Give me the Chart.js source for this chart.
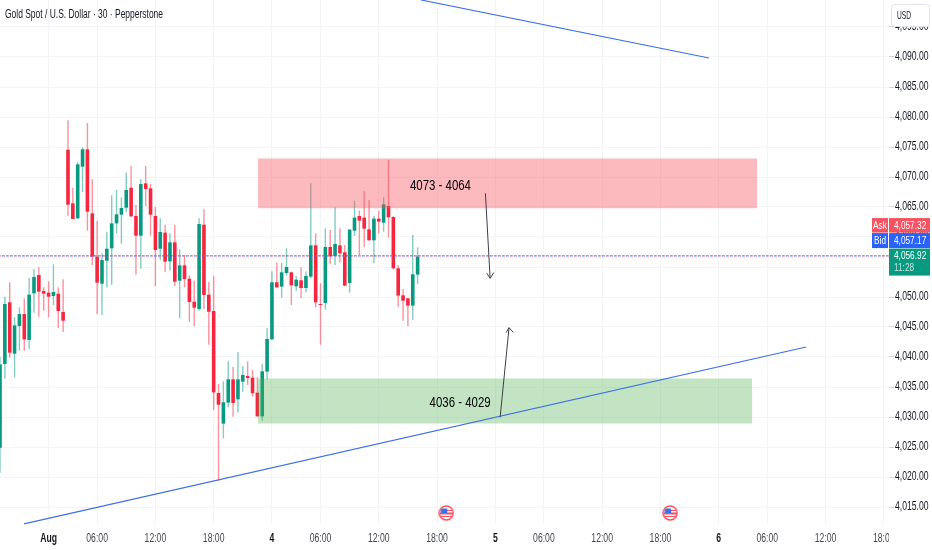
<!DOCTYPE html>
<html>
<head>
<meta charset="utf-8">
<title>Gold Spot / U.S. Dollar</title>
<script src="https://cdn.jsdelivr.net/npm/chart.js@4/dist/chart.umd.min.js"></script>
<style>
  html, body { margin: 0; padding: 0; background: #fff; overflow: hidden; }
  #wrap { width: 932px; height: 550px; }
</style>
</head>
<body>
<div id="wrap"><canvas id="goldChart" width="932" height="550"></canvas></div>
<script>
// ------ Data ----------------------------------
var opens = [4024.89,4038.83,4049.11,4040.55,4045.16,4047.16,4042.83,4050.61,4053.66,4051.00,4050.72,4050.16,4050.55,4047.50,
  4074.55,4065.61,4063.11,4071.72,4074.61,4063.94,4056.72,4052.22,4056.05,4058.11,4062.27,4063.72,4064.89,4068.22,4063.50,4060.22,
  4068.94,4068.11,4063.50,4058.05,4060.72,4055.94,4059.11,4052.72,4055.27,4053.05,4049.22,4048.00,4062.05,4050.39,4047.66,4034.00,
  4028.89,4032.39,4036.28,4032.95,4035.89,4036.84,4036.56,4034.06,4030.11,4037.56,4042.95,4052.45,4051.73,4054.00,4054.11,4051.78,
  4052.78,4051.50,4053.39,4058.61,4048.84,4049.00,4058.34,4056.84,4058.61,4057.45,4052.34,4061.06,4063.50,4063.23,4061.28,4059.45,
  4063.06,4062.39,4065.17,4063.34,4054.78,4050.28,4049.78,4048.56,4053.73];
var highs = [4040.05,4050.05,4052.44,4046.61,4048.27,4049.77,4053.16,4054.66,4054.94,4051.61,4052.61,4055.44,4051.61,4052.94,
  4079.44,4068.22,4072.50,4074.94,4079.00,4069.61,4062.66,4057.27,4060.89,4066.94,4067.83,4066.61,4070.77,4071.83,4065.33,4069.61,
  4071.83,4068.83,4065.00,4063.11,4062.05,4060.61,4062.05,4057.94,4057.00,4053.61,4052.77,4063.11,4064.61,4052.50,4053.50,4035.50,
  4035.95,4039.28,4038.34,4040.84,4038.50,4039.28,4037.84,4036.61,4038.84,4044.78,4054.28,4055.73,4055.73,4058.11,4054.23,4053.50,
  4054.95,4054.23,4068.95,4060.61,4052.28,4061.45,4061.17,4064.95,4061.45,4058.67,4061.28,4066.06,4064.39,4067.61,4066.17,4063.50,
  4064.39,4066.61,4072.84,4063.45,4055.28,4051.34,4049.83,4060.34,4058.28];
var lows = [4020.72,4036.39,4039.89,4036.61,4041.05,4041.05,4041.33,4047.39,4046.72,4047.72,4046.61,4048.66,4044.83,4044.16,
  4063.55,4062.94,4063.05,4067.50,4061.05,4055.33,4047.16,4047.00,4051.61,4052.05,4060.61,4058.89,4064.16,4063.33,4053.72,4054.72,
  4065.16,4060.22,4051.83,4056.16,4054.16,4054.39,4051.83,4046.44,4051.61,4045.83,4045.16,4047.72,4048.00,4042.05,4031.16,4019.33,
  4026.45,4031.61,4030.06,4030.73,4034.17,4035.34,4033.39,4030.06,4029.39,4036.28,4042.84,4051.45,4049.89,4053.56,4048.67,4051.06,
  4049.78,4050.73,4053.11,4048.23,4042.06,4047.95,4055.45,4055.34,4055.73,4051.84,4050.73,4060.17,4057.00,4058.28,4059.39,4055.61,
  4060.61,4060.89,4059.89,4054.61,4048.39,4046.06,4045.17,4046.17,4052.17];
var closes = [4038.77,4048.83,4040.72,4045.27,4047.16,4042.94,4050.39,4053.33,4050.89,4050.55,4050.05,4050.83,4047.66,4046.05,
  4065.39,4063.00,4072.11,4074.61,4064.22,4056.72,4052.39,4056.16,4058.05,4062.27,4063.77,4064.83,4067.83,4063.44,4060.22,4068.83,
  4068.00,4063.72,4057.83,4060.83,4055.89,4059.11,4052.55,4055.27,4053.00,4049.16,4048.22,4062.16,4050.33,4047.55,4034.11,4032.05,
  4032.45,4036.28,4032.34,4036.28,4037.00,4036.50,4033.95,4030.11,4037.61,4043.00,4052.45,4051.61,4054.11,4055.00,4051.95,4052.89,
  4051.50,4053.50,4058.61,4049.11,4048.67,4058.34,4056.78,4058.84,4057.28,4051.89,4061.23,4063.23,4062.73,4061.39,4059.45,4063.06,
  4062.56,4065.45,4063.28,4054.78,4050.23,4049.39,4048.56,4053.78,4056.73];

var xTickIndex = [10,20,32,44,56,66,78,90,102,112,124,136,148,158,170,182];
var xTickLabels = ['Aug','06:00','12:00','18:00','4','06:00','12:00','18:00','5','06:00','12:00','18:00','6','06:00','12:00','18:00'];
var priceTicks = [4015,4020,4025,4030,4035,4040,4045,4050,4055,4060,4065,4070,4075,4080,4085,4090,4095];

var askPrice = 4057.32;
var bidPrice = 4057.17;
var lastPrice = 4056.92;
var priceLine = 4056.85; // where the dotted lines sit in the picture
var countdown = '11:28';

// drawings, [candle index, price]
var redZone = [[53.1,4073.1],[155.9,4073.1]];
var redZoneBottom = 4064.8;
var greenZone = [[53.1,4036.4],[154.9,4036.4]];
var greenZoneBottom = 4028.9;
var upperTrend = [[86.7,4099.5],[146,4089.83]];
var lowerTrend = [[4.94,4012.2],[166,4041.67]];
var downArrow = [[99.96,4067.28],[100.93,4053.12]];
var downArrowHead = [[100.25,4053.95],[100.93,4053.12],[101.69,4054.07]];
var upArrow = [[102.99,4029.95],[104.82,4044.88]];
var upArrowHead = [[104.22,4044.05],[104.82,4044.88],[105.72,4044.12]];
var eventIndex = [91.9,138];
var eventPrice = 4014;
var redZoneLabel = '4073 - 4064';
var greenZoneLabel = '4036 - 4029';

var titleText = 'Gold Spot / U.S. Dollar \u00b7 30 \u00b7 Pepperstone';

// ------ Helpers ------------
var FONT = '"Liberation Sans", sans-serif';
var UP = '#089981', DOWN = '#f7263e', GRID = '#f3f4f6';
var SQUEEZE = 0.72; // no condensed font installed, squeeze every label

var canvas = document.getElementById('goldChart');
var rawCtx = canvas.getContext('2d');
var rawFillText = rawCtx.fillText;
rawCtx.fillText = function (text, x, y, maxWidth) {
  var w = maxWidth === undefined ? this.measureText(text).width * SQUEEZE : maxWidth;
  rawFillText.call(this, text, x, y, w);
};

function toPoints(list) {
  return list.map(function (p) { return { x: p[0], y: p[1] }; });
}
function lineSet(list, color, width, order, extra) {
  return Object.assign({
    type: 'line', data: toPoints(list), borderColor: color, borderWidth: width,
    pointRadius: 0, tension: 0, order: order, clip: true
  }, extra || {});
}
function money(v) {
  return v.toLocaleString('en-US', { minimumFractionDigits: 2 });
}

// little US flag for the event markers
function flagCanvas() {
  var c = document.createElement('canvas');
  c.width = 16; c.height = 16;
  var g = c.getContext('2d');
  g.scale(0.5, 0.5);
  g.beginPath(); g.arc(16, 16, 14, 0, Math.PI * 2); g.closePath();
  g.fillStyle = '#fff'; g.fill();
  g.save(); g.clip();
  g.fillStyle = '#f7525f'; g.fillRect(4, 15, 26, 4);
  g.fillRect(4, 22, 26, 2);
  g.fillRect(17, 10, 13, 2);
  g.fillStyle = '#3d6fe8'; g.fillRect(5, 7, 13, 9);
  g.restore();
  g.beginPath(); g.arc(16, 16, 14, 0, Math.PI * 2);
  g.lineWidth = 3; g.strokeStyle = '#f7525f'; g.stroke();
  return c;
}

// price panel and text that sit on top of the plot
var overlayPlugin = {
  id: 'overlay',
  afterDraw: function (chart) {
    var ctx = chart.ctx, y = chart.scales.y, x = chart.scales.x;
    var panel = chart.chartArea.right;
    ctx.save();
    // keeps the last time label cut off at the price panel
    ctx.fillStyle = '#fff';
    ctx.fillRect(panel, 527, 932 - panel, 23);

    ctx.textBaseline = 'middle';
    ctx.textAlign = 'left';
    ctx.fillStyle = '#131722';
    ctx.font = '12.5px ' + FONT;
    ctx.fillText(titleText, 5, 15, 158);

    ctx.fillStyle = '#000';
    ctx.font = '15px ' + FONT;
    ctx.textAlign = 'center';
    ctx.fillText(redZoneLabel, x.getPixelForValue(90.7), y.getPixelForValue(4068.45), 61);
    ctx.fillText(greenZoneLabel, x.getPixelForValue(94.75), y.getPixelForValue(4032.33), 61);

    // USD button
    ctx.fillStyle = '#fff';
    ctx.strokeStyle = '#e0e3eb';
    ctx.lineWidth = 1;
    ctx.beginPath();
    ctx.roundRect(891.5, 4.5, 38, 22, 3);
    ctx.fill(); ctx.stroke();
    ctx.fillStyle = '#131722';
    ctx.textAlign = 'left';
    ctx.font = '11.5px ' + FONT;
    ctx.fillText('USD', 897, 16, 14);

    // ask / bid / last badges
    var yAsk = y.getPixelForValue(askPrice);
    ctx.font = '11.5px ' + FONT;
    ctx.fillStyle = '#f7525f';
    ctx.fillRect(872, yAsk - 35, 16, 14.5);
    ctx.fillRect(889, yAsk - 35, 41, 14.5);
    ctx.fillStyle = '#2962ff';
    ctx.fillRect(872, yAsk - 20, 16, 15);
    ctx.fillRect(889, yAsk - 20, 41, 15);
    ctx.fillStyle = UP;
    ctx.fillRect(889, yAsk - 4.5, 41, 27);

    ctx.fillStyle = '#fff';
    ctx.textAlign = 'center';
    ctx.fillText('Ask', 880, yAsk - 27.5);
    ctx.fillText('Bid', 880, yAsk - 12.5);
    ctx.textAlign = 'left';
    ctx.fillText(money(askPrice), 894, yAsk - 27.5);
    ctx.fillText(money(bidPrice), 894, yAsk - 12.5);
    ctx.fillText(money(lastPrice), 894, yAsk + 2.5);
    ctx.fillStyle = 'rgba(255,255,255,0.75)';
    ctx.fillText(countdown, 894, yAsk + 14.5);
    ctx.restore();
  }
};

// ------ Chart ------------
var lastX = 888.8 / 4.855;
var chart = new Chart(canvas, {
  type: 'bar',
  data: {
    datasets: [
      // candle wicks and bodies
      {
        data: highs.map(function (h, i) { return { x: i, y: [lows[i], h] }; }),
        backgroundColor: function (c) {
          return closes[c.dataIndex] >= opens[c.dataIndex] ? 'rgba(8,153,129,0.5)' : 'rgba(247,38,62,0.5)';
        },
        barThickness: 1.4, order: 20, grouped: false, inflateAmount: 0
      },
      {
        data: opens.map(function (o, i) { return { x: i, y: [o, closes[i]] }; }),
        backgroundColor: function (c) {
          return closes[c.dataIndex] >= opens[c.dataIndex] ? UP : DOWN;
        },
        barThickness: 3.6, minBarLength: 1, order: 19, grouped: false, inflateAmount: 0
      },
      // current price lines
      lineSet([[0, priceLine], [lastX, priceLine]], '#f7525f', 1, 10, { borderDash: [1, 3] }),
      lineSet([[0, priceLine], [lastX, priceLine]], '#2962ff', 1, 9, { borderDash: [1, 3], borderDashOffset: 2 }),
      lineSet([[0, priceLine], [lastX, priceLine]], UP, 1, 8, { borderDash: [1, 3], borderDashOffset: 1 }),
      // zones
      lineSet(redZone, 'rgba(0,0,0,0)', 0, 6, { fill: { value: redZoneBottom }, backgroundColor: 'rgba(247,82,95,0.4)' }),
      lineSet(greenZone, 'rgba(0,0,0,0)', 0, 6, { fill: { value: greenZoneBottom }, backgroundColor: 'rgba(76,175,80,0.34)' }),
      // drawings
      lineSet(upperTrend, '#3d6fe8', 1.2, 4),
      lineSet(lowerTrend, '#3d6fe8', 1.2, 4),
      lineSet(downArrow, '#3b3f4a', 1, 3),
      lineSet(downArrowHead, '#3b3f4a', 1, 3),
      lineSet(upArrow, '#3b3f4a', 1, 3),
      lineSet(upArrowHead, '#3b3f4a', 1, 3),
      // event markers
      {
        type: 'scatter',
        data: eventIndex.map(function (v) { return { x: v, y: eventPrice }; }),
        pointStyle: flagCanvas(), pointRadius: 8, order: 1, clip: false
      }
    ]
  },
  options: {
    responsive: false,
    animation: false,
    events: [],
    layout: { autoPadding: false, padding: 0 },
    plugins: {
      legend: { display: false },
      title: { display: false },
      tooltip: { enabled: false },
      filler: { propagate: false }
    },
    scales: {
      x: {
        type: 'linear', min: 0, max: lastX, offset: false,
        grid: { color: GRID, offset: false, drawTicks: false },
        border: { display: false },
        afterBuildTicks: function (scale) {
          scale.ticks = xTickIndex.map(function (v) { return { value: v }; });
        },
        afterFit: function (scale) {
          scale.height = 25;
          scale.paddingLeft = scale.paddingRight = 0;
        },
        ticks: {
          autoSkip: false, maxRotation: 0, padding: 6,
          font: function (c) {
            var major = xTickLabels[c.index] && xTickLabels[c.index].indexOf(':') < 0;
            return { family: FONT, size: 12, weight: major ? 'bold' : 'normal' };
          },
          color: function (c) {
            var major = xTickLabels[c.index] && xTickLabels[c.index].indexOf(':') < 0;
            return major ? '#131722' : '#434651';
          },
          callback: function (v, i) { return xTickLabels[i]; }
        }
      },
      y: {
        position: 'right', min: 4012, max: 4099.5,
        grid: { color: GRID, tickLength: 5, tickColor: '#d1d4dc' },
        border: { display: false },
        afterBuildTicks: function (scale) {
          scale.ticks = priceTicks.map(function (v) { return { value: v }; });
        },
        afterFit: function (scale) {
          scale.width = 932 - 889;
          scale.paddingTop = scale.paddingBottom = 0;
        },
        ticks: {
          padding: 1, color: '#131722',
          font: { family: FONT, size: 12 },
          callback: function (v) { return money(v); }
        }
      }
    }
  },
  plugins: [overlayPlugin]
});
</script>
</body>
</html>
